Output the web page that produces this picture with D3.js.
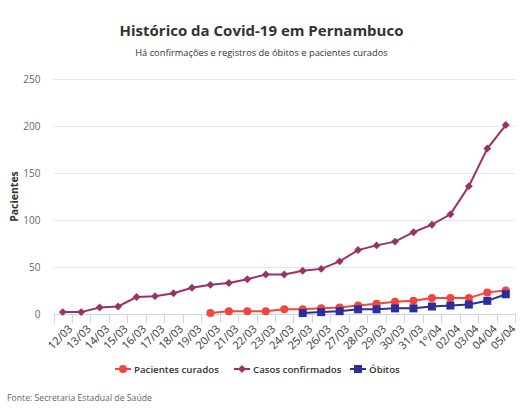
<!DOCTYPE html>
<html>
<head>
<meta charset="utf-8">
<script src="https://cdn.jsdelivr.net/npm/d3@7"></script>
<style>
  body { margin: 0; background: #fff; font-family: "Open Sans", sans-serif; }
  svg text { font-family: "Open Sans", sans-serif; }
</style>
</head>
<body>
<div id="chart"></div>
<script>
var categories = ["12/03","13/03","14/03","15/03","16/03","17/03","18/03","19/03","20/03","21/03",
  "22/03","23/03","24/03","25/03","26/03","27/03","28/03","29/03","30/03","31/03",
  "1º/04","02/04","03/04","04/04","05/04"];
// null = no record on that day
var curados = [null,null,null,null,null,null,null,null,1,3,3,3,5,5,6,7,9,11,13,14,17,17,17,23,25];
var confirmados = [2,2,7,8,18,19,22,28,31,33,37,42,42,46,48,56,68,73,77,87,95,106,136,176,201];
var obitos = [null,null,null,null,null,null,null,null,null,null,null,null,null,1,2,3,5,5,6,6,8,9,10,14,21];
var yTicks = [0, 50, 100, 150, 200, 250];

var W = 531, H = 409;
var margin = {top: 79, left: 53.5, right: 16, bottom: 95};

var svg = d3.select("#chart").append("svg")
  .attr("width", W).attr("height", H);

var x = d3.scaleBand().domain(categories)
  .range([margin.left, W - margin.right]);
var y = d3.scaleLinear().domain([0, 250])
  .range([H - margin.bottom, margin.top]);

// titles
svg.append("text").attr("x", W/2 - 4).attr("y", 36)
  .attr("text-anchor", "middle").attr("font-size", 15).attr("font-weight", 700)
  .attr("fill", "#333").text("Histórico da Covid-19 em Pernambuco");
svg.append("text").attr("x", W/2 - 4).attr("y", 56)
  .attr("text-anchor", "middle").attr("font-size", 9.3)
  .attr("fill", "#333").text("Há confirmações e registros de óbitos e pacientes curados");

// grid + y labels
var yAxis = svg.append("g").attr("transform", "translate(" + margin.left + ",0)")
  .call(d3.axisLeft(y).tickValues(yTicks).tickSize(-(W - margin.right - margin.left)).tickPadding(13));
yAxis.select(".domain").remove();
yAxis.selectAll(".tick line").attr("stroke", "#e6e6e6");
yAxis.selectAll(".tick text").attr("fill", "#666").attr("font-size", 10)
  .style("font-family", "'Open Sans', sans-serif");

svg.append("text")
  .attr("transform", "translate(18," + (y(125)) + ") rotate(-90)")
  .attr("text-anchor", "middle").attr("font-size", 10.5).attr("font-weight", 700)
  .attr("fill", "#333").text("Pacientes");

// x axis
var x0 = y(0);
svg.append("line").attr("x1", margin.left).attr("x2", W - margin.right)
  .attr("y1", x0 + 0.5).attr("y2", x0 + 0.5).attr("stroke", "#ccd6eb");
var bounds = categories.map(function(c) { return x(c); }).concat([x.range()[1]]);
svg.selectAll(".xtick").data(bounds).enter().append("line")
  .attr("x1", function(d) { return Math.round(d) + 0.5; })
  .attr("x2", function(d) { return Math.round(d) + 0.5; })
  .attr("y1", x0).attr("y2", x0 + 9).attr("stroke", "#ccd6eb");
svg.selectAll(".xlab").data(categories).enter().append("text")
  .attr("transform", function(d) {
    return "translate(" + (x(d) + x.bandwidth()/2 + 5) + "," + (x0 + 10) + ") rotate(-45)";
  })
  .attr("text-anchor", "end").attr("dy", "0.7em").attr("font-size", 11)
  .attr("fill", "#333").text(function(d) { return d; });

function cx(i) { return x(categories[i]) + x.bandwidth()/2; }

var series = [
  {name: "Pacientes curados", values: curados, color: "#f1453d", marker: "circle"},
  {name: "Casos confirmados", values: confirmados, color: "#993366", marker: "diamond"},
  {name: "Óbitos", values: obitos, color: "#2e2d9c", marker: "square"}
];

function drawMarker(g, type, color, px, py) {
  if (type === "circle") {
    g.append("circle").attr("cx", px).attr("cy", py).attr("r", 4).attr("fill", color);
  } else if (type === "square") {
    g.append("rect").attr("x", px - 4).attr("y", py - 4).attr("width", 8).attr("height", 8).attr("fill", color);
  } else {
    g.append("path").attr("d", d3.symbol(d3.symbolDiamond2, 40)()).attr("transform", "translate(" + px + "," + py + ")").attr("fill", color);
  }
}

series.forEach(function(s) {
  var pts = s.values.map(function(v, i) { return {i: i, v: v}; }).filter(function(p) { return p.v !== null; });
  var line = d3.line().x(function(p) { return cx(p.i); }).y(function(p) { return y(p.v); });
  var g = svg.append("g");
  g.append("path").datum(pts).attr("d", line).attr("fill", "none")
    .attr("stroke", s.color).attr("stroke-width", 2);
  pts.forEach(function(p) { drawMarker(g, s.marker, s.color, cx(p.i), y(p.v)); });
});

// legend
var legendX = [115, 234, 350];
series.forEach(function(s, k) {
  var g = svg.append("g").attr("transform", "translate(" + legendX[k] + ",369)");
  g.append("line").attr("x1", 0).attr("x2", 16).attr("y1", 0).attr("y2", 0)
    .attr("stroke", s.color).attr("stroke-width", 2);
  drawMarker(g, s.marker, s.color, 8, 0);
  g.append("text").attr("x", 19).attr("y", 4).attr("font-size", 9.7).attr("font-weight", 600)
    .attr("fill", "#333").text(s.name);
});

svg.append("text").attr("x", 7).attr("y", 401).attr("font-size", 8.7)
  .attr("fill", "#666").text("Fonte: Secretaria Estadual de Saúde");
</script>
</body>
</html>
